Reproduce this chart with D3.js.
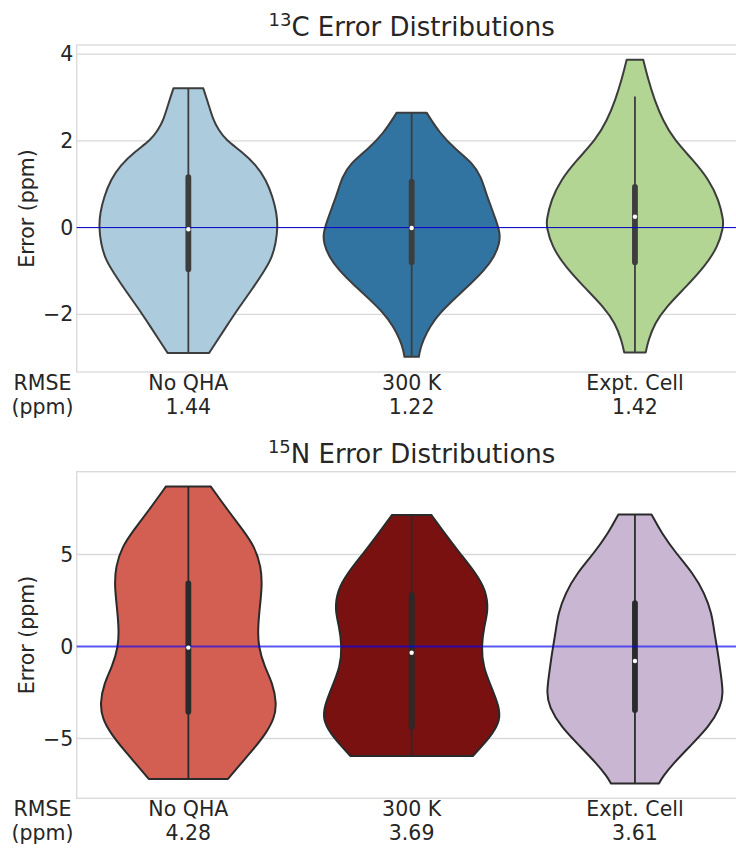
<!DOCTYPE html>
<html>
<head>
<meta charset="utf-8">
<script src="https://cdn.jsdelivr.net/npm/d3@7"></script>
<style>
  html, body { margin: 0; padding: 0; background: #ffffff; }
  svg { display: block; font-family: "DejaVu Sans", sans-serif; }
</style>
</head>
<body>
<svg id="chart" width="736" height="848"></svg>
<script>
// ---------------- DATA ----------------
const categories = ["No QHA", "300 K", "Expt. Cell"];
const rmseC = ["1.44", "1.22", "1.42"];
const rmseN = ["4.28", "3.69", "3.61"];
const colorsC = ["#accbdd", "#3274a1", "#b2d594"];
const colorsN = ["#d35f52", "#791111", "#c9b6d2"];
const ticksC = [-2, 0, 2, 4];
const ticksN = [-5, 0, 5];
const ylimC = [-3.33, 4.21];
const ylimN = [-8.25, 9.5];

// violin density profiles (value, relative half-width)
const profileC_vals = [
  [3.21, 2.87, 2.48, 2.25, 2.02, 1.75, 1.44, 1.10, 0.71, 0.33, 0.02, -0.36, -0.75, -1.05, -1.40, -1.82, -2.28, -2.63, -2.89],
  [2.65, 2.17, 1.79, 1.48, 1.17, 0.79, 0.48, 0.17, -0.13, -0.36, -0.67, -0.98, -1.32, -1.67, -1.97, -2.28, -2.59, -2.82, -2.98],
  [3.87, 3.40, 2.94, 2.48, 2.02, 1.56, 1.10, 0.63, 0.17, 0.02, -0.44, -0.90, -1.37, -1.83, -2.21, -2.60, -2.88]
];
const profileC_wids = [
  [0.167, 0.222, 0.278, 0.34, 0.42, 0.60, 0.76, 0.87, 0.944, 0.989, 1.0, 0.981, 0.926, 0.833, 0.722, 0.574, 0.426, 0.315, 0.233],
  [0.167, 0.315, 0.50, 0.685, 0.778, 0.833, 0.889, 0.944, 0.99, 0.985, 0.926, 0.815, 0.648, 0.463, 0.315, 0.204, 0.13, 0.093, 0.081],
  [0.093, 0.15, 0.22, 0.31, 0.44, 0.65, 0.83, 0.94, 0.99, 0.99, 0.93, 0.78, 0.57, 0.35, 0.22, 0.15, 0.12]
];
const profileN_vals = [
  [8.69, 7.51, 6.33, 5.43, 4.34, 3.26, 1.99, 0.90, -0.01, -1.10, -2.00, -3.09, -3.90, -4.72, -5.62, -6.44, -7.20],
  [7.15, 6.15, 5.07, 3.98, 3.07, 1.98, 1.08, -0.01, -1.10, -2.18, -3.27, -3.99, -4.72, -5.45, -5.95],
  [7.18, 6.15, 5.07, 3.98, 2.89, 1.80, 0.72, -0.37, -1.46, -2.54, -3.27, -4.36, -5.45, -6.35, -7.08, -7.44]
];
const profileN_wids = [
  [0.252, 0.426, 0.611, 0.741, 0.815, 0.826, 0.796, 0.778, 0.785, 0.852, 0.944, 0.989, 0.963, 0.87, 0.722, 0.574, 0.444],
  [0.22, 0.37, 0.54, 0.72, 0.83, 0.86, 0.81, 0.78, 0.80, 0.89, 0.98, 0.99, 0.91, 0.78, 0.685],
  [0.185, 0.30, 0.46, 0.65, 0.78, 0.86, 0.89, 0.93, 0.96, 0.99, 0.96, 0.83, 0.61, 0.43, 0.31, 0.27]
];

// inner box statistics
const q1C = [-0.96, -0.80, -0.80], medC = [-0.04, -0.01, 0.25], q3C = [1.16, 1.06, 0.94];
const loC = [-2.89, -2.98, -2.88], hiC = [3.21, 2.65, 3.02];
const q1N = [-3.54, -4.36, -3.45], medN = [-0.06, -0.34, -0.79], q3N = [3.43, 2.80, 2.35];
const loN = [-7.20, -5.95, -7.44], hiN = [8.69, 7.15, 7.18];

// ---------------- LAYOUT ----------------
const svg = d3.select("#chart");
const textColor = "#262626";
const x = d3.scaleLinear().domain([-0.5, 2.5]).range([76.7, 746.6]);
const halfW = 0.4; // violin max half-width in category units

function panel(opts) {
  const y = d3.scaleLinear().domain(opts.ylim).range([opts.bottom, opts.top]);
  const g = svg.append("g");

  // grid
  g.selectAll(".grid").data(opts.ticks).enter().append("line")
    .attr("x1", x.range()[0]).attr("x2", x.range()[1])
    .attr("y1", d => y(d)).attr("y2", d => y(d))
    .attr("stroke", "#d9d9d9").attr("stroke-width", 1.3);

  // spines
  g.append("rect")
    .attr("x", x.range()[0]).attr("y", opts.top)
    .attr("width", x.range()[1] - x.range()[0]).attr("height", opts.bottom - opts.top)
    .attr("fill", "none").attr("stroke", "#d9d9d9").attr("stroke-width", 1.3);

  // y axis tick labels via d3 axis
  const yAxis = d3.axisLeft(y).tickValues(opts.ticks).tickSize(0).tickPadding(3.5).tickFormat(d3.format("d"));
  const ya = g.append("g").attr("transform", `translate(${x.range()[0]},0)`).call(yAxis);
  ya.select(".domain").remove();
  ya.selectAll("text").attr("font-size", 20.5).attr("fill", textColor)
    .attr("font-family", "DejaVu Sans, sans-serif");

  // violins
  categories.forEach((c, i) => {
    const pts = opts.vals[i].map((v, k) => ({ v: v, w: opts.wids[i][k] }));
    const area = d3.area()
      .y(d => y(d.v))
      .x0(d => x(i - halfW * d.w))
      .x1(d => x(i + halfW * d.w))
      .curve(d3.curveBasis);
    g.append("path").datum(pts)
      .attr("d", area)
      .attr("fill", opts.colors[i])
      .attr("stroke", opts.gray).attr("stroke-width", 2)
      .attr("stroke-linejoin", "round");
  });

  // whiskers
  g.selectAll(".whisk").data(categories).enter().append("line")
    .attr("x1", (d, i) => x(i)).attr("x2", (d, i) => x(i))
    .attr("y1", (d, i) => y(opts.hi[i])).attr("y2", (d, i) => y(opts.lo[i]))
    .attr("stroke", opts.gray).attr("stroke-width", 1.8);
  // boxes
  g.selectAll(".box").data(categories).enter().append("line")
    .attr("x1", (d, i) => x(i)).attr("x2", (d, i) => x(i))
    .attr("y1", (d, i) => y(opts.q3[i])).attr("y2", (d, i) => y(opts.q1[i]))
    .attr("stroke", opts.gray).attr("stroke-width", 5.8).attr("stroke-linecap", "round");

  // zero line
  g.append("line")
    .attr("x1", x.range()[0]).attr("x2", 736)
    .attr("y1", y(0)).attr("y2", y(0))
    .attr("stroke", opts.zeroColor).attr("stroke-width", opts.zeroWidth)
    .attr("stroke-opacity", opts.zeroOpacity);

  // medians
  g.selectAll(".med").data(categories).enter().append("circle")
    .attr("cx", (d, i) => x(i)).attr("cy", (d, i) => y(opts.med[i]))
    .attr("r", 2.2).attr("fill", "#ffffff");

  // title
  const t = g.append("text")
    .attr("x", x(1)).attr("y", opts.titleY)
    .attr("text-anchor", "middle").attr("font-size", 26).attr("fill", textColor);
  t.append("tspan").attr("font-size", 18).attr("dy", -10).text(opts.iso);
  t.append("tspan").attr("dy", 10).text(opts.titleRest);

  // y label
  g.append("text")
    .attr("transform", `translate(34,${(opts.top + opts.bottom) / 2}) rotate(-90)`)
    .attr("text-anchor", "middle").attr("font-size", 20.5).attr("fill", textColor)
    .text("Error (ppm)");

  // x labels
  const lab = g.selectAll(".xl").data(categories).enter().append("text")
    .attr("text-anchor", "middle").attr("font-size", 20.5).attr("fill", textColor);
  lab.append("tspan").attr("x", (d, i) => x(i)).attr("y", opts.bottom + 18).text(d => d);
  lab.append("tspan").attr("x", (d, i) => x(i)).attr("y", opts.bottom + 42).text((d, i) => opts.rmse[i]);

  const r = g.append("text").attr("text-anchor", "middle").attr("font-size", 20.5).attr("fill", textColor);
  r.append("tspan").attr("x", 42.5).attr("y", opts.bottom + 18).text("RMSE");
  r.append("tspan").attr("x", 42.5).attr("y", opts.bottom + 42).text("(ppm)");
}

panel({
  top: 45, bottom: 372, ylim: ylimC, ticks: ticksC,
  vals: profileC_vals, wids: profileC_wids, colors: colorsC, gray: "#3d3d3d",
  q1: q1C, q3: q3C, med: medC, lo: loC, hi: hiC, rmse: rmseC,
  zeroColor: "#0000c8", zeroWidth: 1, zeroOpacity: 1,
  titleY: 36, iso: "13", titleRest: "C Error Distributions"
});
panel({
  top: 471.7, bottom: 798.3, ylim: ylimN, ticks: ticksN,
  vals: profileN_vals, wids: profileN_wids, colors: colorsN, gray: "#2a2a2a",
  q1: q1N, q3: q3N, med: medN, lo: loN, hi: hiN, rmse: rmseN,
  zeroColor: "#0000ff", zeroWidth: 1.8, zeroOpacity: 0.6,
  titleY: 462.5, iso: "15", titleRest: "N Error Distributions"
});
</script>
</body>
</html>
